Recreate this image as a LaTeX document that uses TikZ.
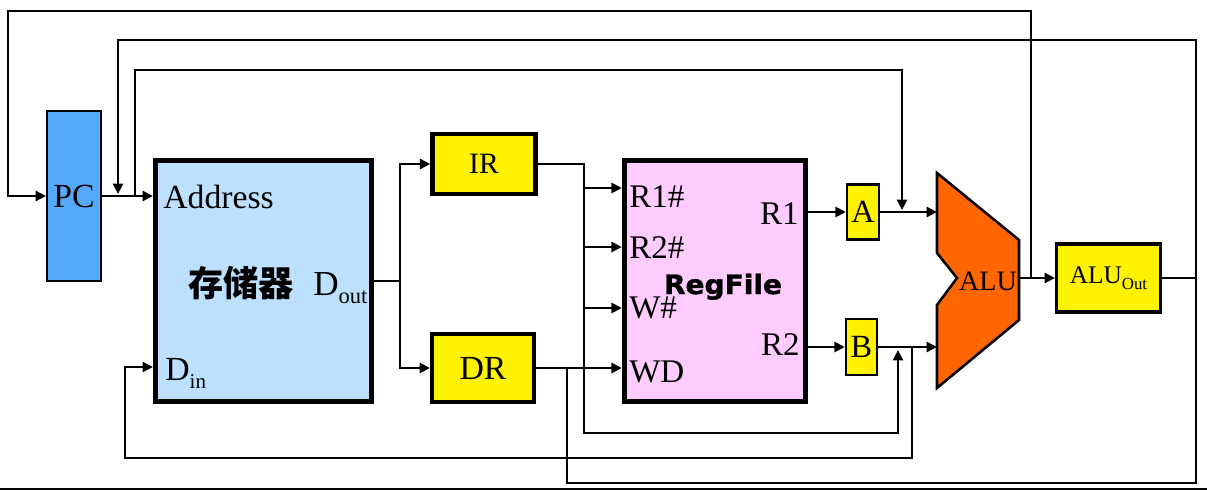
\documentclass[tikz,border=0pt]{standalone}
\usepackage{fontspec}
\setmainfont{Liberation Serif}
\newfontfamily\cjkfont{Noto Sans CJK SC}
\newfontfamily\rffont{DejaVu Sans}[FakeStretch=1.05,FakeBold=1.5]
\usepackage{xcolor}
\usetikzlibrary{positioning,arrows.meta}
\definecolor{pcblue}{RGB}{85,170,255}
\definecolor{memblue}{RGB}{189,224,255}
\definecolor{rfpink}{RGB}{255,204,255}
\definecolor{aluorange}{RGB}{255,102,0}
\newcommand{\subtx}[2][16]{\raisebox{-0.25em}{\fontsize{#1}{#1}\selectfont #2}}

\begin{document}
\begin{tikzpicture}[
  x=0.25mm, y=-0.25mm,
  wire/.style={line width=1.8pt},
  feed/.style={wire, -{Triangle[length=2.6mm,width=2.5mm]}},
  unit/.style={draw, line width=3.6pt, inner sep=0pt},
  reg/.style={draw, line width=3pt, fill=yellow, inner sep=0pt},
  small/.style={draw, line width=1.6pt, fill=yellow, inner sep=0pt},
  port/.style={inner sep=0pt, anchor=base west, font=\fontsize{23.5}{26}\selectfont},
  portr/.style={port, anchor=base east}]
\useasboundingbox (0,0) rectangle (1207,490);
\node[draw, line width=1.4pt, fill=pcblue, minimum width=13.5mm, minimum height=42.5mm, font=\fontsize{24}{26}\selectfont] (pc) at (74,196) {PC};
\node[unit, fill=memblue, minimum width=54mm, minimum height=60.3mm] (mem) at (263.5,281) {};
\node[port, font=\fontsize{24}{26}\selectfont] (addr) at (163,208) {Address};
\node[port, font=\cjkfont\bfseries\fontsize{25}{28}\selectfont] (memname) at (188,296) {存储器};
\node[port, font=\fontsize{25}{26}\selectfont] (dout) at (313,295) {D\subtx{out}};
\node[port, font=\fontsize{24}{26}\selectfont] (din) at (165,380) {D\subtx[15]{in}};
\node[reg, minimum width=25.8mm, minimum height=15mm, font=\fontsize{21}{24}\selectfont] (ir) at (484,164) {IR};
\node[reg, minimum width=25.4mm, minimum height=17mm, font=\fontsize{24}{26}\selectfont] (dr) at (483,368) {DR};
\node[unit, fill=rfpink, minimum width=45.3mm, minimum height=60.3mm] (rf) at (715,281) {};
\node[port] (r1n) at (629,207) {R1\#};
\node[port] (r2n) at (629,258) {R2\#};
\node[port] (wn) at (629,318) {W\#};
\node[port] (wd) at (629,382) {WD};
\node[portr] (r1) at (799,224) {R1};
\node[portr] (r2) at (800,355) {R2};
\node[inner sep=0pt, anchor=base, font=\rffont\bfseries\fontsize{19}{22}\selectfont] (rfname) at (723,294) {RegFile};
\node[small, minimum width=8mm, minimum height=13.75mm, font=\fontsize{23}{24}\selectfont] (a) at (863,212) {A};
\node[small, minimum width=7.75mm, minimum height=14mm, font=\fontsize{23}{24}\selectfont] (b) at (861.5,347) {B};
\draw[wire, fill=aluorange] (937,173) -- (1019,240) -- (1019,320) -- (937,388) -- (937,305) -- (957,278) -- (937,253) -- cycle;
\coordinate (aluA) at (937,212);
\coordinate (aluB) at (937,347);
\coordinate (aluY) at (1019,278);
\node[inner sep=0pt, anchor=base, font=\fontsize{20}{22}\selectfont] (alu) at (988,290) {ALU};
\node[draw, line width=2.2pt, fill=yellow, inner sep=0pt, minimum width=26mm, minimum height=17mm, font=\fontsize{18}{20}\selectfont] (aluout) at (1108.5,278) {ALU\subtx[12]{Out}};
\coordinate (tapAd) at (118,194);
\coordinate (tapPC) at (135,196);
\coordinate (tapA) at (902,210);
\coordinate (immB) at (898,350);
\coordinate (jY) at (1031,278);
\coordinate (jO) at (1196,278);
\coordinate (jM) at (400,281);
\coordinate (jD) at (567,368);
\coordinate (jB) at (912,347);
\coordinate (irbus) at (584,164);
\draw[feed] (pc.east) -- (pc.east -| mem.west);
\draw[feed] (aluY) -- (aluY -| aluout.west);
\draw[feed] (jY) |- (8,11) |- (pc.west);
\draw[wire] (aluout.east) -- (jO);
\draw[feed] (jO) |- (118,40) -- (tapAd);
\draw[wire] (jO) |- (567,483) -- (jD);
\draw[feed] (tapPC) |- (902,70) -- (tapA);
\draw[wire] (mem.east) -- (jM);
\draw[feed] (jM) |- (ir.west);
\draw[feed] (jM) |- (dr.west);
\draw[feed] (ir.east) -| (584,433) -| (immB);
\foreach \yy in {188,247,308}
  \draw[feed] (irbus |- 0,\yy) -- (rf.west |- 0,\yy);
\draw[feed] (dr.east) -- (dr.east -| rf.west);
\draw[feed] (rf.east |- a.west) -- (a.west);
\draw[feed] (rf.east |- b.west) -- (b.west);
\draw[feed] (a.east) -- (aluA);
\draw[feed] (b.east) -- (aluB);
\draw[feed] (jB) |- (125,458) |- (mem.west |- 0,367);
\draw[line width=1.5pt] (0,489) -- (1207,489);
\end{tikzpicture}
\end{document}
